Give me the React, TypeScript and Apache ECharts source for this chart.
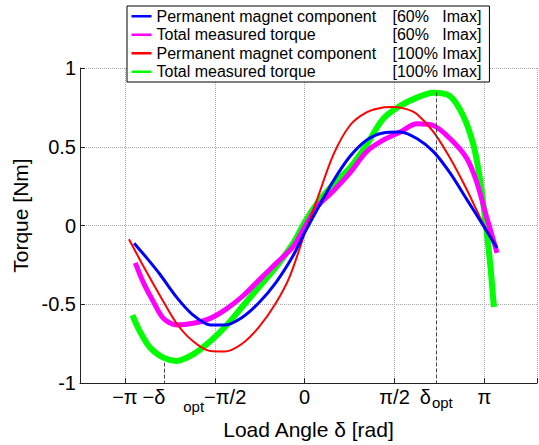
import React, { useEffect, useRef } from 'react';
import * as echarts from 'echarts';

const PI = Math.PI;
const deltaOpt = 2.3;
const deltaOptNeg = -2.45;
const xMin = -3.926;
const xMax = 4.06;
const xGridTicks = [-PI, -PI / 2, 0, PI / 2, PI, xMax];
const xLabelValues = [-PI, deltaOptNeg, -PI / 2, 0, PI / 2, deltaOpt, PI];
const xTickLabels = ['−π', '−δopt', '−π/2', '0', 'π/2', 'δopt', 'π'];

const seriesNames = [
  'Permanent magnet component [60%   Imax]',
  'Total measured torque [60%   Imax]',
  'Permanent magnet component [100% Imax]',
  'Total measured torque [100% Imax]',
];

const pm60X = [-2.98, -2.75, -2.53, -2.24, -1.95, -1.65, -1.4, -1.1, -0.8, -0.5, -0.2, 0.0, 0.21, 0.5, 0.79, 1.08, 1.37, 1.67, 1.96, 2.25, 2.54, 2.83, 3.12, 3.36];
const pm60Y = [-0.112, -0.21, -0.309, -0.454, -0.568, -0.631, -0.632, -0.585, -0.49, -0.36, -0.19, -0.045, 0.096, 0.283, 0.438, 0.542, 0.588, 0.594, 0.552, 0.469, 0.334, 0.168, 0.0, -0.143];

const tot60X = [-2.96, -2.82, -2.64, -2.47, -2.24, -1.95, -1.65, -1.36, -1.07, -0.78, -0.49, -0.2, 0.0, 0.21, 0.5, 0.79, 1.08, 1.37, 1.67, 1.96, 2.25, 2.54, 2.83, 3.0, 3.18, 3.33, 3.36];
const tot60Y = [-0.237, -0.361, -0.486, -0.589, -0.631, -0.62, -0.589, -0.527, -0.444, -0.34, -0.237, -0.133, -0.01, 0.116, 0.22, 0.334, 0.469, 0.542, 0.594, 0.646, 0.635, 0.552, 0.428, 0.283, 0.054, -0.133, -0.174];

const pm100X = [-3.07, -2.82, -2.53, -2.24, -1.95, -1.65, -1.4, -1.1, -0.8, -0.5, -0.256, 0.0, 0.21, 0.5, 0.79, 1.08, 1.37, 1.55, 1.78, 1.96, 2.25, 2.54, 2.83, 3.12, 3.36];
const pm100Y = [-0.087, -0.257, -0.444, -0.62, -0.735, -0.797, -0.8, -0.752, -0.645, -0.49, -0.319, -0.05, 0.158, 0.448, 0.635, 0.718, 0.75, 0.753, 0.739, 0.708, 0.594, 0.428, 0.23, 0.012, -0.133];

const tot100X = [-3.01, -2.88, -2.7, -2.47, -2.24, -1.95, -1.65, -1.36, -1.07, -0.78, -0.49, -0.2, 0.0, 0.21, 0.5, 0.79, 1.08, 1.37, 1.67, 1.96, 2.25, 2.54, 2.77, 2.95, 3.06, 3.15, 3.24, 3.3, 3.31];
const tot100Y = [-0.568, -0.672, -0.776, -0.838, -0.859, -0.818, -0.735, -0.631, -0.506, -0.382, -0.257, -0.112, 0.02, 0.137, 0.262, 0.365, 0.511, 0.677, 0.76, 0.812, 0.843, 0.822, 0.697, 0.511, 0.303, 0.054, -0.237, -0.486, -0.517];

const dashTopPos = 0.845;
const dashTopNeg = -0.87;

const FONT = '"Liberation Sans", Arial, Helvetica, sans-serif';

const pairs = (xs: number[], ys: number[]) => xs.map((x, i) => [x, ys[i]]);

export default function App() {
  const ref = useRef<HTMLDivElement>(null);
  useEffect(() => {
    if (!ref.current) return;
    const chart = echarts.init(ref.current, null, { renderer: 'svg' });
    const xFormatter = (v: number) => {
      const i = xLabelValues.findIndex((t) => Math.abs(t - v) < 1e-6);
      const s = i >= 0 ? xTickLabels[i] : '';
      if (s === '−δopt') return '{m|−δ}{p| }';
      if (s === '−π/2') return '{s|opt}{m|−π/2}';
      if (s === 'δopt') return '{m|δ}{t|opt}';
      return '{m|' + s + '}';
    };
    const lineSeries = (name: string, color: string, xs: number[], ys: number[], width: number, z: number) => ({
      name,
      type: 'line',
      color,
      data: pairs(xs, ys),
      showSymbol: false,
      symbol: 'none',
      smooth: 0.3,
      lineStyle: { color, width },
      z,
    });
    chart.setOption({
      animation: false,
      backgroundColor: '#fff',
      grid: { left: 80, top: 68, right: 2, bottom: 55.5, containLabel: false },
      legend: {
        data: [seriesNames[0], seriesNames[1], seriesNames[2], seriesNames[3]],
        orient: 'vertical',
        left: 127,
        top: 6,
        itemWidth: 20,
        itemHeight: 2.5,
        itemGap: 0,
        icon: 'rect',
        padding: [1, 8, 1, 4.5],
        borderColor: '#000',
        borderWidth: 1,
        backgroundColor: '#fff',
        formatter: (name: string) => {
          const k = name.indexOf(' [');
          return '{n|' + name.slice(0, k) + '}{b|' + name.slice(k + 1) + '}';
        },
        textStyle: {
          fontSize: 16,
          fontFamily: FONT,
          color: '#000',
          lineHeight: 18.5,
          rich: {
            n: { width: 236, fontSize: 16, fontFamily: FONT, color: '#000', lineHeight: 18.5 },
            b: { fontSize: 16, fontFamily: FONT, color: '#000', lineHeight: 18.5 },
          },
        },
      },
      xAxis: {
        type: 'value',
        min: xMin,
        max: xMax,
        axisLine: { show: true, onZero: false, lineStyle: { color: '#222', width: 1 } },
        axisTick: { show: true, inside: true, length: 5, customValues: xGridTicks, lineStyle: { color: '#222' } },
        axisLabel: {
          customValues: xLabelValues,
          formatter: xFormatter,
          margin: 4,
          color: '#000',
          fontSize: 20,
          fontFamily: FONT,
          rich: {
            m: { fontSize: 20, fontFamily: FONT, color: '#000', lineHeight: 20, verticalAlign: 'top' },
            p: { fontSize: 20, width: 21, lineHeight: 20, verticalAlign: 'top' },
            s: { fontSize: 15, fontFamily: FONT, color: '#000', padding: [12, 0, 0, 0] },
            t: { fontSize: 15, fontFamily: FONT, color: '#000', padding: [8, 0, 0, 1] },
          },
        },
        splitLine: { show: true, lineStyle: { type: 'dotted', color: '#aaa', width: 1 } },
        name: 'Load Angle δ [rad]',
        nameLocation: 'middle',
        nameGap: 28,
        nameTextStyle: { fontSize: 21, fontFamily: FONT, color: '#000' },
      },
      yAxis: {
        type: 'value',
        min: -1,
        max: 1,
        interval: 0.5,
        axisLine: { show: true, onZero: false, lineStyle: { color: '#222', width: 1 } },
        axisTick: { show: true, inside: true, length: 5, lineStyle: { color: '#222' } },
        axisLabel: { margin: 4, color: '#000', fontSize: 20, fontFamily: FONT },
        splitLine: { show: true, lineStyle: { type: 'dotted', color: '#aaa', width: 1 } },
        name: 'Torque [Nm]',
        nameLocation: 'middle',
        nameGap: 45,
        nameTextStyle: { fontSize: 21, fontFamily: FONT, color: '#000', padding: [0, 0, 0, 20] },
      },
      series: [
        lineSeries(seriesNames[3], '#00ff00', tot100X, tot100Y, 6, 2),
        lineSeries(seriesNames[1], '#ff00ff', tot60X, tot60Y, 5, 3),
        lineSeries(seriesNames[2], '#ff0000', pm100X, pm100Y, 2, 4),
        {
          ...lineSeries(seriesNames[0], '#0000ff', pm60X, pm60Y, 3, 5),
          markLine: {
            silent: true,
            symbol: ['none', 'none'],
            label: { show: false },
            lineStyle: { type: 'dashed', color: '#444', width: 1 },
            data: [
              [{ coord: [deltaOpt, dashTopPos] }, { coord: [deltaOpt, -1] }],
              [{ coord: [deltaOptNeg, dashTopNeg] }, { coord: [deltaOptNeg, -1] }],
            ],
          },
        },
      ],
    });
    return () => chart.dispose();
  }, []);
  return (
    <div
      ref={ref}
      style={{ position: 'absolute', left: 0, top: 0, width: 539, height: 445, background: '#fff' }}
    />
  );
}
